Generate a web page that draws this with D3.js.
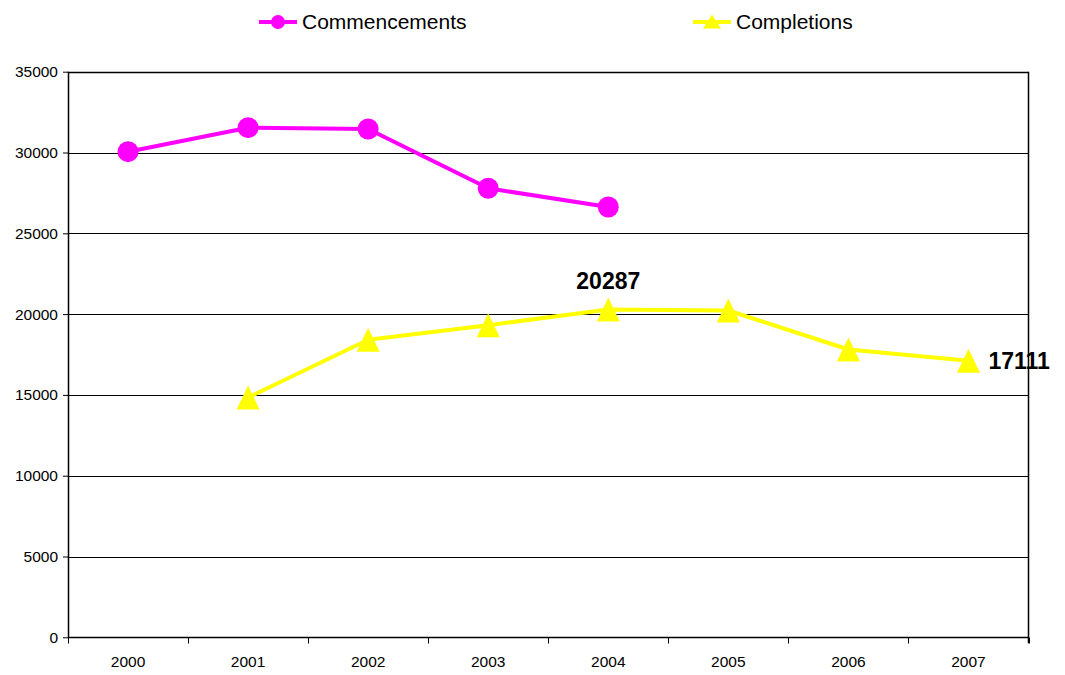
<!DOCTYPE html>
<html>
<head>
<meta charset="utf-8">
<script src="https://cdn.jsdelivr.net/npm/d3@7"></script>
<style>
  html, body { margin: 0; padding: 0; background: #fff; }
  svg { display: block; font-family: Arial, "Liberation Sans", sans-serif; }
</style>
</head>
<body>
<svg id="chart" width="1065" height="675"></svg>
<script>
const years = ["2000", "2001", "2002", "2003", "2004", "2005", "2006", "2007"];
const commencements = [30050, 31535, 31455, 27785, 26628, null, null, null];
const completions = [null, 14840, 18410, 19313, 20287, 20223, 17810, 17111];
const yTicks = [0, 5000, 10000, 15000, 20000, 25000, 30000, 35000];
const seriesNames = ["Commencements", "Completions"];
const labelled = [{ year: "2004", value: 20287, pos: "top" }, { year: "2007", value: 17111, pos: "right" }];

(function () {
const svg = d3.select("#chart");
const pLeft = 68, pRight = 1028.5, pTop = 71.7, pBottom = 637.3;

const x = d3.scaleBand().domain(years).range([pLeft, pRight]).padding(0);
const y = d3.scaleLinear().domain([0, 35000]).range([pBottom, pTop]);
const cx = d => x(d) + x.bandwidth() / 2;

// gridlines
svg.append("g").selectAll("line").data(yTicks.filter(t => t > 0)).join("line")
  .attr("x1", pLeft).attr("x2", pRight)
  .attr("y1", d => Math.round(y(d)) + 0.5).attr("y2", d => Math.round(y(d)) + 0.5)
  .attr("stroke", "#000").attr("stroke-width", 1);

// y axis
const yAxis = d3.axisLeft(y).tickValues(yTicks).tickSize(5).tickPadding(5).tickFormat(d => d);
const gy = svg.append("g").attr("transform", `translate(${pLeft},0)`).call(yAxis);
gy.select(".domain").remove();
gy.selectAll(".tick line").attr("stroke", "#000");
gy.selectAll(".tick text").attr("font-size", 15.5).attr("fill", "#000")
  .attr("font-family", "Arial, 'Liberation Sans', sans-serif");
svg.append("line").attr("x1", pLeft + 0.5).attr("x2", pLeft + 0.5).attr("y1", pTop).attr("y2", pBottom + 0.5)
  .attr("stroke", "#000").attr("stroke-width", 1.5);

// x axis
const gx = svg.append("g").attr("transform", `translate(0,${Math.round(pBottom) + 0.5})`);
gx.append("line").attr("x1", pLeft).attr("x2", pRight).attr("stroke", "#000").attr("stroke-width", 1.5);
const bounds = years.map(d => x(d)).concat([x.range()[1]]);
gx.selectAll("line.tk").data(bounds).join("line").attr("class", "tk")
  .attr("x1", d => Math.round(d) + 0.5).attr("x2", d => Math.round(d) + 0.5)
  .attr("y1", 0).attr("y2", 6).attr("stroke", "#000");
gx.selectAll("text").data(years).join("text")
  .attr("x", d => cx(d)).attr("y", 29).attr("text-anchor", "middle")
  .attr("font-size", 15.5).attr("fill", "#000").text(d => d);

// top frame line
svg.append("line").attr("x1", pLeft).attr("x2", pRight).attr("y1", Math.round(pTop) + 0.5).attr("y2", Math.round(pTop) + 0.5)
  .attr("stroke", "#000").attr("stroke-width", 1.5);

const magenta = "#FF00FF", yellow = "#FFFF00";
const triPath = (w, h) => `M0,${-h / 2}L${w / 2},${h / 2}L${-w / 2},${h / 2}Z`;

// commencements
const cData = years.map((d, i) => ({ year: d, v: commencements[i] })).filter(d => d.v != null);
svg.append("path").datum(cData)
  .attr("d", d3.line().x(d => cx(d.year)).y(d => y(d.v)))
  .attr("fill", "none").attr("stroke", magenta).attr("stroke-width", 4).attr("stroke-linejoin", "round");
svg.append("g").selectAll("circle").data(cData).join("circle")
  .attr("cx", d => cx(d.year)).attr("cy", d => y(d.v)).attr("r", 10.5).attr("fill", magenta);

// completions
const pData = years.map((d, i) => ({ year: d, v: completions[i] })).filter(d => d.v != null);
svg.append("path").datum(pData)
  .attr("d", d3.line().x(d => cx(d.year)).y(d => y(d.v)))
  .attr("fill", "none").attr("stroke", yellow).attr("stroke-width", 4).attr("stroke-linejoin", "round");
svg.append("g").selectAll("path").data(pData).join("path")
  .attr("transform", d => `translate(${cx(d.year)},${y(d.v)})`)
  .attr("d", triPath(23, 24)).attr("fill", yellow);

// data labels
svg.append("g").selectAll("text").data(labelled).join("text")
  .attr("x", d => d.pos === "top" ? cx(d.year) : cx(d.year) + 20)
  .attr("y", d => d.pos === "top" ? y(d.value) - 20 : y(d.value) + 8.5)
  .attr("text-anchor", d => d.pos === "top" ? "middle" : "start")
  .attr("font-size", 23).attr("font-weight", "bold").attr("fill", "#000")
  .text(d => d.value);

// right frame line
svg.append("line").attr("x1", pRight).attr("x2", pRight).attr("y1", pTop).attr("y2", pBottom + 6)
  .attr("stroke", "#000").attr("stroke-width", 1.5);

// legend
const legend = svg.append("g");
const legItems = [
  { name: seriesNames[0], color: magenta, x0: 259, type: "circle" },
  { name: seriesNames[1], color: yellow, x0: 693, type: "tri" }
];
const ly = 22;
legItems.forEach(it => {
  const g = legend.append("g");
  g.append("line").attr("x1", it.x0).attr("x2", it.x0 + 38).attr("y1", ly).attr("y2", ly)
    .attr("stroke", it.color).attr("stroke-width", 4);
  if (it.type === "circle") {
    g.append("circle").attr("cx", it.x0 + 19).attr("cy", ly).attr("r", 7).attr("fill", it.color);
  } else {
    g.append("path").attr("transform", `translate(${it.x0 + 19},${ly - 0.5})`).attr("d", triPath(18, 14)).attr("fill", it.color);
  }
  g.append("text").attr("x", it.x0 + 43).attr("y", ly + 7).attr("font-size", 21).attr("fill", "#000").text(it.name);
});
})();
</script>
</body>
</html>
